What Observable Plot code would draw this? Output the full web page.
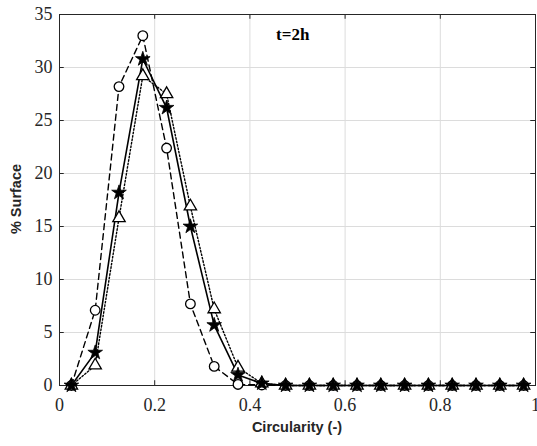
<!DOCTYPE html>
<html><head><meta charset="utf-8">
<script src="https://cdn.jsdelivr.net/npm/d3@7"></script>
<script src="https://cdn.jsdelivr.net/npm/@observablehq/plot@0.6"></script>
<style>body{margin:0;background:#fff}</style>
</head><body><div id="chart"></div>
<script>
const circularity = [0.025,0.075,0.125,0.175,0.225,0.275,0.325,0.375,0.425,0.475,0.525,0.575,0.625,0.675,0.725,0.775,0.825,0.875,0.925,0.975];
const seriesCircle   = [0,7.1,28.2,33.0,22.4,7.7,1.8,0.1,0.05,0,0,0,0,0,0,0,0,0,0,0];
const seriesStar     = [0,3.1,18.2,30.8,26.2,15.0,5.7,1.0,0.2,0,0,0,0,0,0,0,0,0,0,0];
const seriesTriangle = [0,1.9,15.8,29.2,27.5,16.9,7.2,1.7,0.2,0,0,0,0,0,0,0,0,0,0,0];
const xTicks = [0,0.2,0.4,0.6,0.8,1];
const xTickLabels = ["0","0.2","0.4","0.6","0.8","1"];
const yTicks = [0,5,10,15,20,25,30,35];
const annotation = "t=2h";

const mk = (vals) => circularity.map((x,i)=>({x, y: vals[i]}));
const dC = mk(seriesCircle), dS = mk(seriesStar), dT = mk(seriesTriangle);

const plot = Plot.plot({
  width: 537, height: 446,
  marginLeft: 59, marginRight: 2, marginTop: 14, marginBottom: 61,
  style: {fontFamily: "Liberation Serif, serif", fontSize: "18px", color: "#262626", background: "#fff"},
  x: {domain: [0,1], ticks: xTicks, label: null},
  y: {domain: [0,35], ticks: yTicks, label: null},
  marks: [
    Plot.gridX(xTicks, {stroke: "#dcdcdc", strokeOpacity: 1}),
    Plot.gridY(yTicks, {stroke: "#dcdcdc", strokeOpacity: 1}),
    Plot.axisX(xTicks, {tickSize: 0, tickPadding: 13, fontSize: 18, tickFormat: (d)=>xTickLabels[xTicks.indexOf(d)]}),
    Plot.axisY(yTicks, {tickSize: 0, tickPadding: 7, fontSize: 18}),
    Plot.ruleX(xTicks, {x: d=>d, y1: 0, y2: 0.45, stroke: "#262626"}),
    Plot.ruleX(xTicks, {x: d=>d, y1: 34.55, y2: 35, stroke: "#262626"}),
    Plot.ruleY(yTicks, {y: d=>d, x1: 0, x2: 0.01, stroke: "#262626"}),
    Plot.ruleY(yTicks, {y: d=>d, x1: 0.99, x2: 1, stroke: "#262626"}),
    Plot.frame({stroke: "#262626"}),
    Plot.line(dC, {x:"x", y:"y", stroke:"black", strokeWidth:1.4, strokeDasharray:"6,4"}),
    Plot.line(dS, {x:"x", y:"y", stroke:"black", strokeWidth:1.6}),
    Plot.line(dT, {x:"x", y:"y", stroke:"black", strokeWidth:1.4, strokeDasharray:"1.5,2"}),
    Plot.dot(dC, {x:"x", y:"y", symbol:"circle", r:4.8, stroke:"black", fill:"white", strokeWidth:1.3}),
    Plot.dot(dT, {x:"x", y:"y", symbol:"triangle", r:4.6, stroke:"black", fill:"white", strokeWidth:1.3}),
    Plot.dot(dS, {x:"x", y:"y", symbol:"star", r:4.6, stroke:"black", fill:"black", strokeWidth:0.8}),
    Plot.text([annotation], {x: 0.455, y: 33.1, text: d=>d, textAnchor:"start", fontWeight:"bold", fontSize:17, fill:"black"})
  ]
});
document.getElementById("chart").appendChild(plot);
const svg = d3.select(plot);
svg.selectAll("text").style("font-family", "'Liberation Serif', 'Times New Roman', serif");
svg.append("text").attr("x", 297).attr("y", 432).attr("text-anchor","middle")
  .style("font-family","'Liberation Sans', Arial, sans-serif").attr("font-weight","bold").attr("font-size",14.5).attr("fill","#262626")
  .text("Circularity (-)");
svg.append("text").attr("transform","translate(21,199) rotate(-90)").attr("text-anchor","middle")
  .style("font-family","'Liberation Sans', Arial, sans-serif").attr("font-weight","bold").attr("font-size",14.5).attr("fill","#262626")
  .text("% Surface");
</script></body></html>
